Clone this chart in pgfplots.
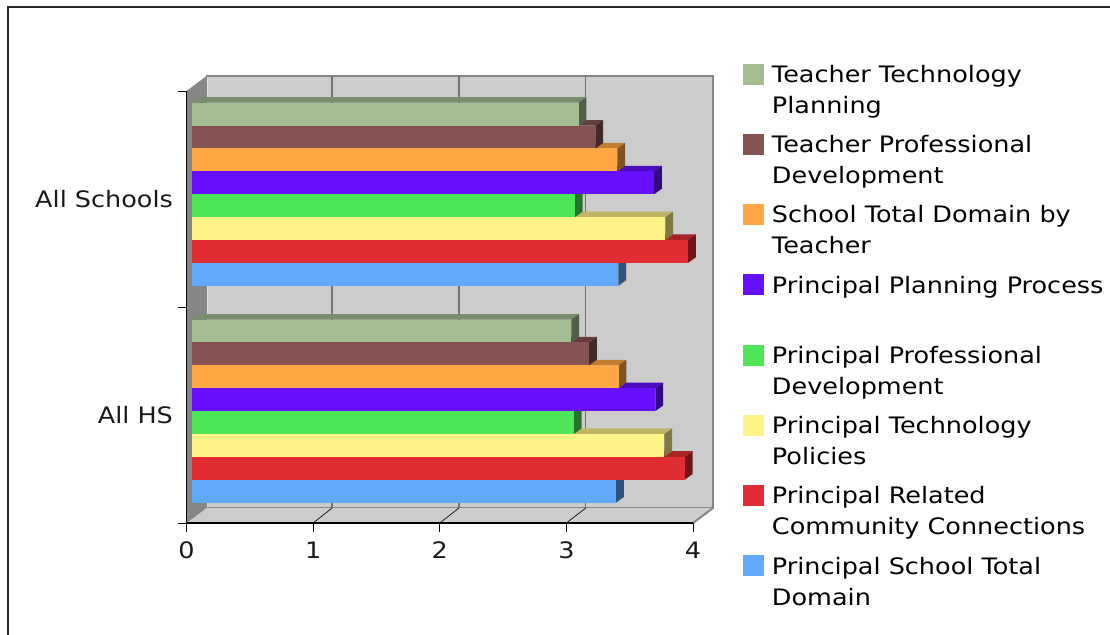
\documentclass[border=0pt]{standalone}
\usepackage{pgfplots}
\pgfplotsset{compat=1.18}
\usepackage{fontspec}
\setmainfont[FakeStretch=1.125]{DejaVu Sans}

\definecolor{teachtech}{HTML}{A3BD8F}
\definecolor{teachprof}{HTML}{865353}
\definecolor{schooltotal}{HTML}{FFA645}
\definecolor{prinplan}{HTML}{6610FF}
\definecolor{prinprof}{HTML}{4EE557}
\definecolor{printech}{HTML}{FFF286}
\definecolor{princomm}{HTML}{E02D33}
\definecolor{prindomain}{HTML}{61A8FF}
\definecolor{wallgrey}{HTML}{868686}
\definecolor{wall}{HTML}{CCCCCC}

% one image pixel is 0.75pt
\newcommand{\chartfont}{\fontsize{17pt}{23.25pt}\selectfont}
\newcommand{\legtext}[2]{\parbox[t]{255pt}{\strut #1\\\strut #2}}

% a bar with its front, top and side faces: value, group base, slot, colour
\newcommand{\solidbar}[4]{%
  \pgfmathsetmacro{\xa}{0.0434}%
  \pgfmathsetmacro{\xb}{#1+0.0434}%
  \pgfmathsetmacro{\ya}{#2+#3*0.1059}%
  \pgfmathsetmacro{\yb}{\ya+0.1059}%
  \pgfmathsetmacro{\xc}{\xa+0.0608}%
  \pgfmathsetmacro{\xd}{\xb+0.0608}%
  \pgfmathsetmacro{\yc}{\ya+0.0255}%
  \pgfmathsetmacro{\yd}{\yb+0.0255}%
  \addplot[fill=#4!75!black,draw=none,forget plot] coordinates {(\xa,\yb)(\xb,\yb)(\xd,\yd)(\xc,\yd)} -- cycle;
  \addplot[fill=#4!50!black,draw=none,forget plot] coordinates {(\xb,\ya)(\xd,\yc)(\xd,\yd)(\xb,\yb)} -- cycle;
  \addplot[fill=#4,draw=none,forget plot] coordinates {(\xa,\ya)(\xb,\ya)(\xb,\yb)(\xa,\yb)} -- cycle;
}

\begin{document}
\begin{tikzpicture}
\path[use as bounding box] (-139.875pt,-84pt) rectangle (692.625pt,392.25pt);
% frame of the chart area, open on the right and at the bottom
\draw[line width=1.1pt,color=black!85] (-133.875pt,-84pt) -- (-133.875pt,387pt) -- (692.625pt,387pt);
\begin{axis}[
  scale only axis,
  width=379.875pt, height=324pt,
  xmin=0, xmax=4, ymin=0, ymax=2,
  clip=false,
  axis on top=true,
  axis x line=bottom, axis y line=left,
  axis line style={-, black, line width=0.8pt},
  tick align=outside,
  major tick length=6.4pt,
  tick style={black, line width=0.7pt},
  xtick={0,1,2,3,4},
  ytick={0,1,2}, yticklabels={},
  extra y ticks={0.5,1.5},
  extra y tick labels={All HS,All Schools},
  extra y tick style={major tick length=0pt, tick label style={inner xsep=0pt, xshift=-10pt}},
  tick label style={font=\chartfont, color=black!90},
  xticklabel style={yshift=-4pt},
  /pgf/number format/assume math mode=true,
  legend cell align=left,
  legend image code/.code={\path[#1] (0pt,5.3pt) rectangle (15.75pt,21.05pt);},
  legend style={draw=none, fill=none, inner sep=0pt, outer sep=0pt,
    at={(1.0987,1.0704)}, anchor=north west, font=\chartfont,
    row sep=6.2pt, column sep=6pt,
    nodes={inner sep=0pt, outer sep=0pt, text height=16.3pt, text depth=30.2pt}},
]
% legend entries, in reading order
\addlegendimage{fill=teachtech,draw=none}
\addlegendentry{\legtext{Teacher Technology}{Planning}}
\addlegendimage{fill=teachprof,draw=none}
\addlegendentry{\legtext{Teacher Professional}{Development}}
\addlegendimage{fill=schooltotal,draw=none}
\addlegendentry{\legtext{School Total Domain by}{Teacher}}
\addlegendimage{fill=prinplan,draw=none}
\addlegendentry{\legtext{Principal Planning Process}{}}
\addlegendimage{fill=prinprof,draw=none}
\addlegendentry{\legtext{Principal Professional}{Development}}
\addlegendimage{fill=printech,draw=none}
\addlegendentry{\legtext{Principal Technology}{Policies}}
\addlegendimage{fill=princomm,draw=none}
\addlegendentry{\legtext{Principal Related}{Community Connections}}
\addlegendimage{fill=prindomain,draw=none}
\addlegendentry{\legtext{Principal School Total}{Domain}}

% walls and floor of the box
\addplot[fill=wall,draw=wallgrey,line width=1.5pt,forget plot] coordinates {(0.158,0.0694)(4.158,0.0694)(4.158,2.0694)(0.158,2.0694)} -- cycle;
\addplot[fill=wall,draw=none,forget plot] coordinates {(0,0)(4,0)(4.158,0.0694)(0.158,0.0694)} -- cycle;
\addplot[wallgrey,line width=1.5pt,forget plot] coordinates {(4,0)(4.158,0.0694)};
\addplot[fill=wallgrey,draw=none,forget plot] coordinates {(0,0)(0.158,0.0694)(0.158,2.0694)(0,2)} -- cycle;
\addplot[wall!60!white,line width=0.5pt,forget plot] coordinates {(0.162,0.075)(0.162,2.064)};
\addplot[black!55!white,line width=1pt,forget plot] coordinates {(1.150,0.0694)(1.150,2.0694)};
\addplot[black!55!white,line width=1pt,forget plot] coordinates {(2.152,0.0694)(2.152,2.0694)};
\addplot[black!55!white,line width=1pt,forget plot] coordinates {(3.153,0.0694)(3.153,2.0694)};
\addplot[black,line width=0.5pt,forget plot] coordinates {(1,0)(1.150,0.0694)};
\addplot[black,line width=0.5pt,forget plot] coordinates {(2,0)(2.152,0.0694)};
\addplot[black,line width=0.5pt,forget plot] coordinates {(3,0)(3.153,0.0694)};

% All HS, nearest the floor first
\solidbar{3.350}{0.0949}{0}{prindomain}
\solidbar{3.892}{0.0949}{1}{princomm}
\solidbar{3.731}{0.0949}{2}{printech}
\solidbar{3.017}{0.0949}{3}{prinprof}
\solidbar{3.660}{0.0949}{4}{prinplan}
\solidbar{3.370}{0.0949}{5}{schooltotal}
\solidbar{3.136}{0.0949}{6}{teachprof}
\solidbar{2.996}{0.0949}{7}{teachtech}
% All Schools
\solidbar{3.368}{1.0986}{0}{prindomain}
\solidbar{3.918}{1.0986}{1}{princomm}
\solidbar{3.739}{1.0986}{2}{printech}
\solidbar{3.025}{1.0986}{3}{prinprof}
\solidbar{3.650}{1.0986}{4}{prinplan}
\solidbar{3.360}{1.0986}{5}{schooltotal}
\solidbar{3.186}{1.0986}{6}{teachprof}
\solidbar{3.054}{1.0986}{7}{teachtech}
\end{axis}
\end{tikzpicture}
\end{document}
